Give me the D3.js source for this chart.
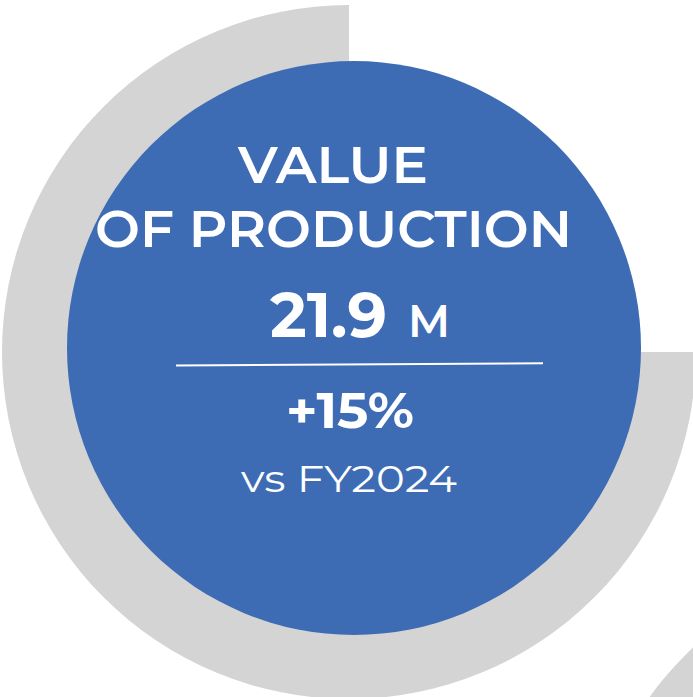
<!DOCTYPE html>
<html>
<head>
<meta charset="utf-8">
<script src="https://cdn.jsdelivr.net/npm/d3@7"></script>
<style>
    html, body { margin: 0; padding: 0; background: #fff; }
    svg { display: block; }
    text { font-family: Montserrat, Inter, "Open Sans", sans-serif; fill: #fff; }
</style>
</head>
<body>
<svg id="chart" width="693" height="697"></svg>
<script>
'use strict';

// ring share: the empty quarter first, then the grey filled part
const ringParts = ['open', 'filled'];
const ringValues = [25, 75];

// neighbouring gauge, only its edge peeks in at the corner
const neighbourParts = ['filled'];
const neighbourValues = [100];

const titleLines = ['VALUE', 'OF PRODUCTION'];
const figureParts = ['21.9', 'M'];
const changeLabel = ['+15%'];
const compareLabel = ['vs FY2024'];

const WIDTH = 693;
const HEIGHT = 697;
const RING_CX = 349;
const RING_CY = 352;
const RING_OUTER = 347;
const RING_INNER = 250;
const DISC_CX = 354;
const DISC_CY = 348;
const DISC_R = 287;
const GREY = '#d4d4d4';
const BLUE = '#3d6cb5';

const svg = d3.select('#chart');

const pie = d3.pie().sort(null).value(d => d.value);

const arc = d3.arc()
    .innerRadius(RING_INNER)
    .outerRadius(RING_OUTER);

function drawRing(cx, cy, parts, values) {
    const g = svg.append('g')
        .attr('transform', 'translate(' + cx + ',' + cy + ')');

    g.selectAll('path')
        .data(pie(parts.map((key, i) => ({ key: key, value: values[i] }))))
        .enter()
        .append('path')
        .attr('d', arc)
        .attr('fill', d => d.data.key === 'filled' ? GREY : 'none');
}

drawRing(931, 900, neighbourParts, neighbourValues);
drawRing(RING_CX, RING_CY, ringParts, ringValues);

svg.append('circle')
    .attr('cx', DISC_CX)
    .attr('cy', DISC_CY)
    .attr('r', DISC_R)
    .attr('fill', BLUE);

// fit a label into the width the original lettering takes
function label(text, x, y, size, weight, width) {
    return svg.append('text')
        .attr('x', x)
        .attr('y', y)
        .attr('font-size', size)
        .attr('font-weight', weight)
        .attr('textLength', width)
        .attr('lengthAdjust', 'spacingAndGlyphs')
        .text(text);
}

label(titleLines[0], 238, 183, 52, 600, 190);
label(titleLines[1], 95, 247, 52, 600, 477);

label(figureParts[0], 270, 337, 62, 700, 117);
label(figureParts[1], 408, 337, 46, 600, 42);

svg.append('line')
    .attr('x1', 176)
    .attr('y1', 365.5)
    .attr('x2', 543)
    .attr('y2', 363.3)
    .attr('stroke', '#fff')
    .attr('stroke-width', 2);

label(changeLabel[0], 286, 428, 50, 700, 128);
label(compareLabel[0], 241, 492, 37, 400, 216);
</script>
</body>
</html>
